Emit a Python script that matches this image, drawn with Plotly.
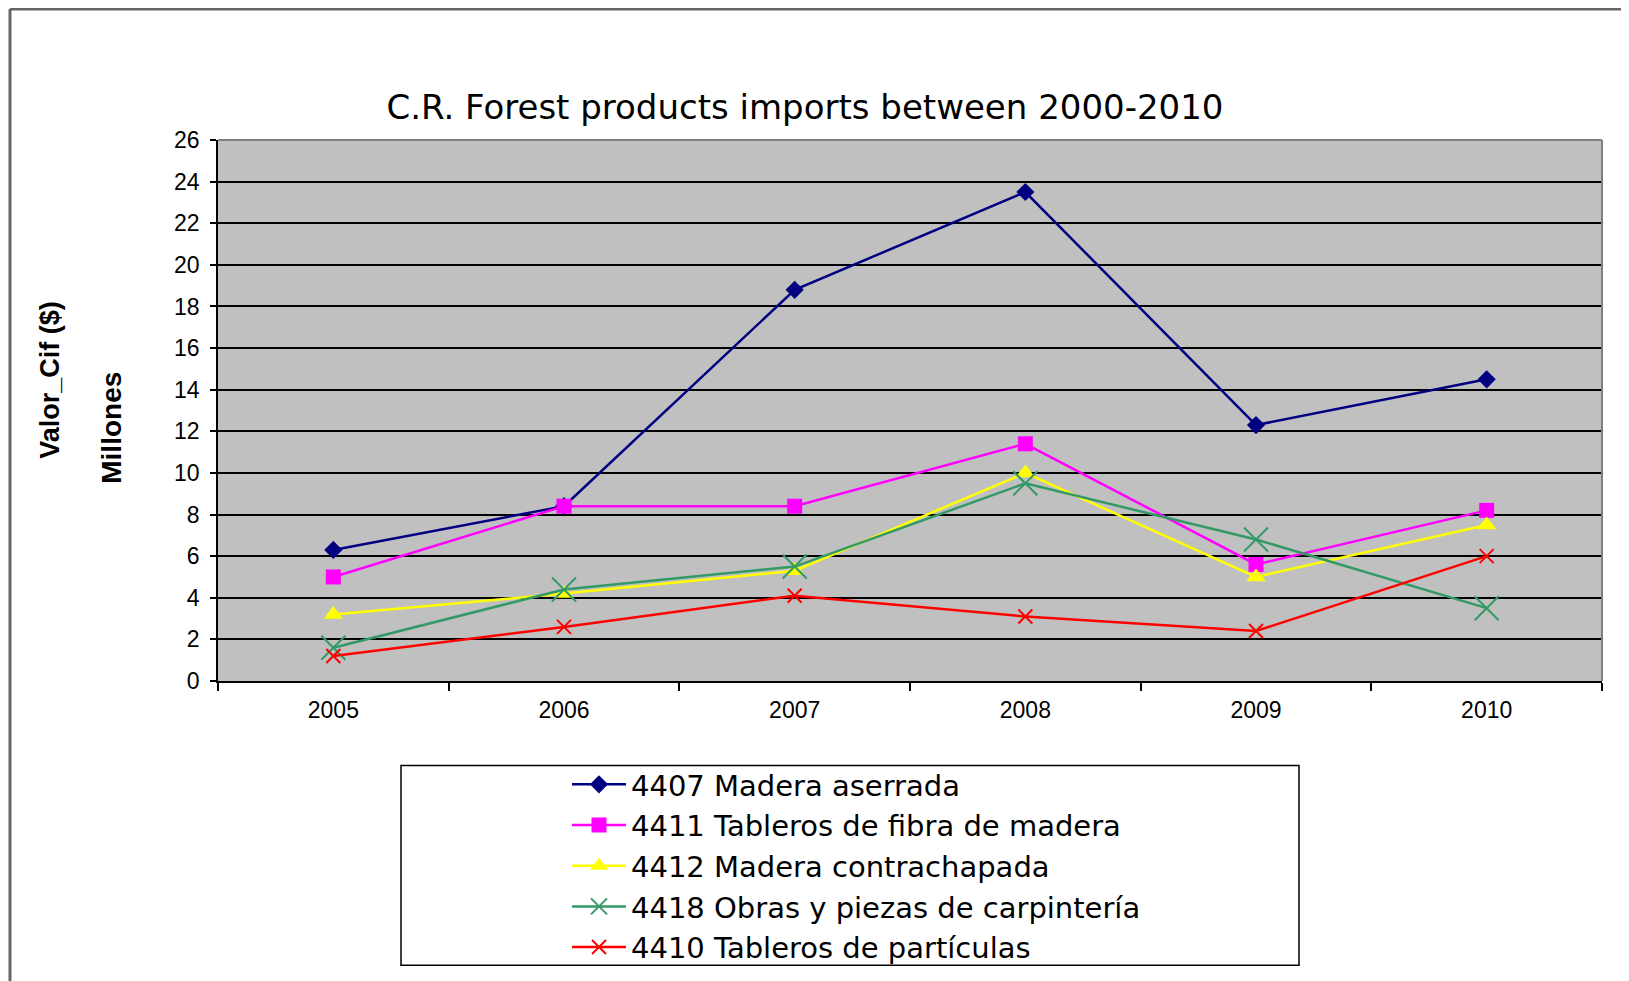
import plotly.graph_objects as go

YEARS = ['2005', '2006', '2007', '2008', '2009', '2010']

MADERA_ASERRADA = [6.3, 8.4, 18.8, 23.5, 12.3, 14.5]
TABLEROS_FIBRA = [5.0, 8.4, 8.4, 11.4, 5.6, 8.2]
CONTRACHAPADA = [3.2, 4.2, 5.3, 10.0, 5.0, 7.5]
CARPINTERIA = [1.6, 4.4, 5.5, 9.5, 6.8, 3.5]
PARTICULAS = [1.2, 2.6, 4.1, 3.1, 2.4, 6.0]

SERIES_NAMES = ['4407 Madera aserrada', '4411 Tableros de fibra de madera',
                '4412 Madera contrachapada', '4418 Obras y piezas de carpintería',
                '4410 Tableros de partículas']

Y_TICKS = list(range(0, 27, 2))

W, H = 1629, 1010  # a bit taller than the window so the legend never pushes the margin
OFF = 8  # the page body adds 8px, so shift everything back
# plot area in screen pixels
PL, PR, PT, PB = 218, 1602, 140, 681.5


def px_x(x):
    return (x - PL) / (PR - PL)


def px_y(y):
    return (PB - y) / (PB - PT)


def MakeChart():
    fig = go.Figure()

    styles = [
        dict(color='#000080', symbol='diamond', size=14, lw=0),
        dict(color='#FF00FF', symbol='square', size=15, lw=0),
        dict(color='#FFFF00', symbol='triangle-up', size=17, lw=0),
        dict(color='#339966', symbol='x-thin-open', size=24, lw=2),
        dict(color='#FF0000', symbol='x-thin-open', size=14, lw=2),
    ]
    data = [MADERA_ASERRADA, TABLEROS_FIBRA, CONTRACHAPADA, CARPINTERIA, PARTICULAS]

    for name, vals, st in zip(SERIES_NAMES, data, styles):
        fig.add_trace(go.Scatter(
            x=YEARS, y=vals, name=name, mode='lines+markers',
            line=dict(color=st['color'], width=2.5),
            marker=dict(symbol=st['symbol'], size=st['size'], color=st['color'],
                        line=dict(color=st['color'], width=st['lw'])),
        ))

    fig.update_layout(
        width=W, height=H,
        margin=dict(l=PL - OFF, r=W - (PR - OFF), t=PT - OFF, b=H - (PB - OFF)),
        paper_bgcolor='white',
        plot_bgcolor='#C0C0C0',
        font=dict(family='Liberation Sans, Arial', color='black'),
        title=dict(text='C.R. Forest products imports between 2000-2010',
                   x=(805 - OFF) / W, xanchor='center',
                   y=1 - (107 - OFF) / H, yanchor='middle',
                   font=dict(family='DejaVu Sans', size=34, color='black')),
        showlegend=True,
        legend=dict(x=px_x(567), xanchor='left', y=px_y(759.5), yanchor='top',
                    bgcolor='rgba(0,0,0,0)', borderwidth=0,
                    font=dict(size=29, family='DejaVu Sans'),
                    itemwidth=54, tracegroupgap=0),
    )

    fig.update_xaxes(
        type='category', range=[-0.5, 5.5], tickson='boundaries',
        ticks='outside', ticklen=8, tickcolor='black', tickwidth=1.5,
        showline=True, linecolor='black', linewidth=1.5,
        showgrid=False, tickfont=dict(size=23), ticklabelstandoff=8,
    )
    fig.update_yaxes(
        range=[0, 26], tickvals=Y_TICKS,
        ticks='outside', ticklen=6, tickcolor='black', tickwidth=1.5,
        showline=True, linecolor='black', linewidth=1.5,
        showgrid=True, gridcolor='black', gridwidth=1.5,
        zeroline=False, tickfont=dict(size=23), ticklabelstandoff=6,
    )

    # axis titles
    fig.add_annotation(text='<b>Valor_Cif ($)</b>', xref='paper', yref='paper',
                       x=px_x(50), y=px_y(380), xanchor='center', yanchor='middle',
                       textangle=-90, showarrow=False, font=dict(size=27))
    fig.add_annotation(text='<b>Millones</b>', xref='paper', yref='paper',
                       x=px_x(112), y=px_y(428), xanchor='center', yanchor='middle',
                       textangle=-90, showarrow=False, font=dict(size=28))

    # plot area border (top / right in grey)
    fig.add_shape(type='line', xref='paper', yref='paper', x0=0, x1=1, y0=1, y1=1,
                  line=dict(color='#808080', width=2))
    fig.add_shape(type='line', xref='paper', yref='paper', x0=1, x1=1, y0=0, y1=1,
                  line=dict(color='#808080', width=2))

    # legend box
    fig.add_shape(type='rect', xref='paper', yref='paper',
                  x0=px_x(401), x1=px_x(1299), y0=px_y(966), y1=px_y(766),
                  line=dict(color='black', width=1.5))

    # outer frame
    fig.add_shape(type='line', xref='paper', yref='paper',
                  x0=px_x(10), x1=px_x(10), y0=px_y(9), y1=px_y(H + 20),
                  line=dict(color='#666666', width=3))
    fig.add_shape(type='line', xref='paper', yref='paper',
                  x0=px_x(10), x1=px_x(W + 20), y0=px_y(9), y1=px_y(9),
                  line=dict(color='#666666', width=3))

    fig.write_html("out.html")


if __name__ == "__main__":
    MakeChart()
